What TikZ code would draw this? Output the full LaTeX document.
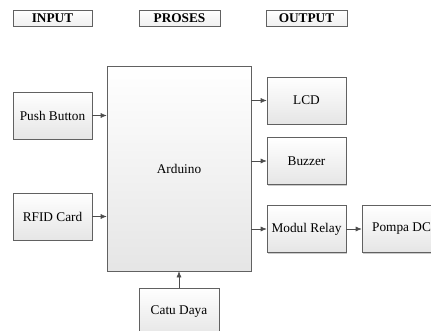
\documentclass[tikz,border=0pt]{standalone}
\usepackage{fontspec}
\setmainfont{Liberation Serif}
\usetikzlibrary{arrows.meta,shadows}
\tikzset{
  blok/.style={draw=black!62, line width=0.6pt, top color=white, bottom color=black!10,
    drop shadow={shadow xshift=1pt, shadow yshift=-1pt, fill=black!45, opacity=0.45},
    font=\fontsize{13.3}{15}\selectfont, inner sep=0pt, minimum width=79pt, minimum height=47pt},
  judul/.style={blok, font=\fontsize{13.3}{15}\selectfont\bfseries, minimum height=16pt, bottom color=black!6},
  panah/.style={draw=black!70, line width=0.6pt, -{Latex[length=6pt,width=5pt]}}
}
\begin{document}
\begin{tikzpicture}[x=1pt, y=-1pt]
			%%%%% START %%%%%
			\useasboundingbox (0, 0) rectangle (431, 330);
			
			\node[judul] (hin) at (52.5, 18) {INPUT};
			\node[judul, minimum width=81pt] (hproses) at (179.5, 18) {PROSES};
			\node[judul, minimum width=81pt] (hout) at (306.5, 18) {OUTPUT};
			
			\node[blok, minimum width=144pt, minimum height=205pt] (ard) at (179, 168.5) {Arduino};
			
			\node[blok] (pb) at (52.5, 115.5) {Push Button};
			\node[blok] (rfid) at (52.5, 216.5) {RFID Card};
			\node[blok, minimum width=80pt, minimum height=48pt] (catu) at (179, 312) {Catu Daya};
			
			\node[blok] (lcd) at (306.5, 100.5) {LCD};
			\node[blok] (buzzer) at (306.5, 161) {Buzzer};
			\node[blok] (relay) at (306.5, 229) {Modul Relay};
			\node[blok] (pompa) at (401.5, 229) {Pompa DC};
			
			\draw[panah] (pb.east) -- (pb.east -| ard.west);
			\draw[panah] (rfid.east) -- (rfid.east -| ard.west);
			\draw[panah] (catu.north) -- (ard.south);
			
			\draw[panah] (lcd.west -| ard.east) -- (lcd.west);
			\draw[panah] (buzzer.west -| ard.east) -- (buzzer.west);
			\draw[panah] (relay.west -| ard.east) -- (relay.west);
			\draw[panah] (relay.east) -- (pompa.west);
			%%%%% END %%%%%
\end{tikzpicture}
\end{document}
